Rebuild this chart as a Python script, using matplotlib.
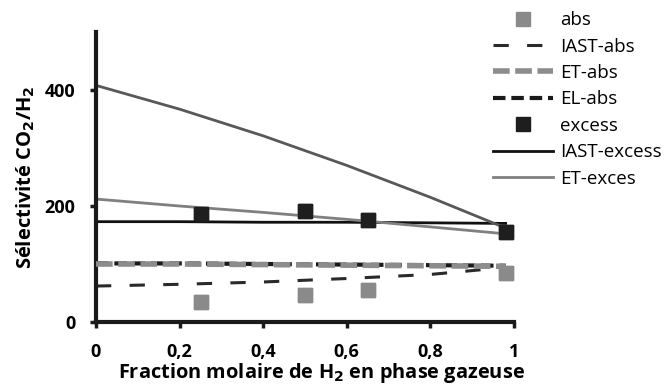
import numpy as np
import matplotlib.pyplot as plt

plt.rcParams['font.family'] = ['Open Sans', 'DejaVu Sans']

# mole fraction of H2 in the gas phase
x_exp = [0.25, 0.5, 0.65, 0.98]
sel_abs = [34, 46, 55, 85]
sel_excess = [186, 191, 176, 156]

x_mod = [0, 0.2, 0.4, 0.6, 0.8, 0.98]
iast_abs = [62, 65, 69, 75, 82, 94]
et_abs = [100, 100, 99, 98, 97, 96]
el_abs = [101, 101, 100, 99, 98, 97]
iast_excess = [173, 173, 172, 172, 171, 170]
et_excess = [212, 200, 189, 177, 164, 152]
upper_excess = [408, 367, 321, 270, 215, 162]

fig = plt.figure(figsize=(6.68, 3.86), dpi=100)
ax = fig.add_axes([0.1437, 0.1658, 0.6258, 0.7512])

ax.plot(x_exp, sel_abs, 's', color='#8a8a8a', ms=9.5, label='abs')
ax.plot(x_mod, iast_abs, color='#2a2a2a', lw=2.2, dashes=(5, 6), label='IAST-abs')
ax.plot(x_mod, et_abs, color='#8c8c8c', lw=4, dashes=(3, 1), label='ET-abs', zorder=3)
ax.plot(x_mod, el_abs, color='#1a1a1a', lw=3, dashes=(3, 1.4), label='EL-abs')
ax.plot(x_exp, sel_excess, 's', color='#1e1e1e', ms=9.5, label='excess')
ax.plot(x_mod, iast_excess, color='#111111', lw=2, label='IAST-excess')
ax.plot(x_mod, et_excess, color='#808080', lw=2, label='ET-exces')
ax.plot(x_mod, upper_excess, color='#585858', lw=2, label='_nolegend_')
# keep the markers on top of the curves
ax.plot(x_exp, sel_excess, 's', color='#1e1e1e', ms=9.5, zorder=4, label='_nolegend_')
ax.plot(x_exp, sel_abs, 's', color='#8a8a8a', ms=9.5, zorder=4, label='_nolegend_')

ax.set_xlim(0, 1)
ax.set_ylim(0, 500)
ax.set_xticks([0, 0.2, 0.4, 0.6, 0.8, 1])
ax.set_xticklabels(['0', '0,2', '0,4', '0,6', '0,8', '1'])
ax.set_yticks([0, 200, 400])

for s in ['top', 'right']:
    ax.spines[s].set_visible(False)
for s in ['left', 'bottom']:
    ax.spines[s].set_linewidth(3)
    ax.spines[s].set_color('#1a1a1a')
ax.tick_params(width=2.5, length=4, labelsize=13, color='#1a1a1a')
ax.tick_params(axis='y', pad=11)
ax.tick_params(axis='x', pad=11)
for lab in ax.get_xticklabels() + ax.get_yticklabels():
    lab.set_fontweight('bold')

ax.set_xlabel('Fraction molaire de H$_\\mathbf{2}$ en phase gazeuse',
              fontsize=14.4, fontweight='bold')
ax.xaxis.set_label_coords(0.54, -0.133)
ax.set_ylabel('Sélectivité CO$_\\mathbf{2}$/H$_\\mathbf{2}$',
              fontsize=14.5, fontweight='bold', labelpad=5)

ax.legend(loc='upper left', bbox_to_anchor=(0.932, 1.098), frameon=False,
          fontsize=13.5, handlelength=3.2, handletextpad=0.37, labelspacing=0.45,
          borderaxespad=0)

fig.savefig('out.png', dpi=100)
